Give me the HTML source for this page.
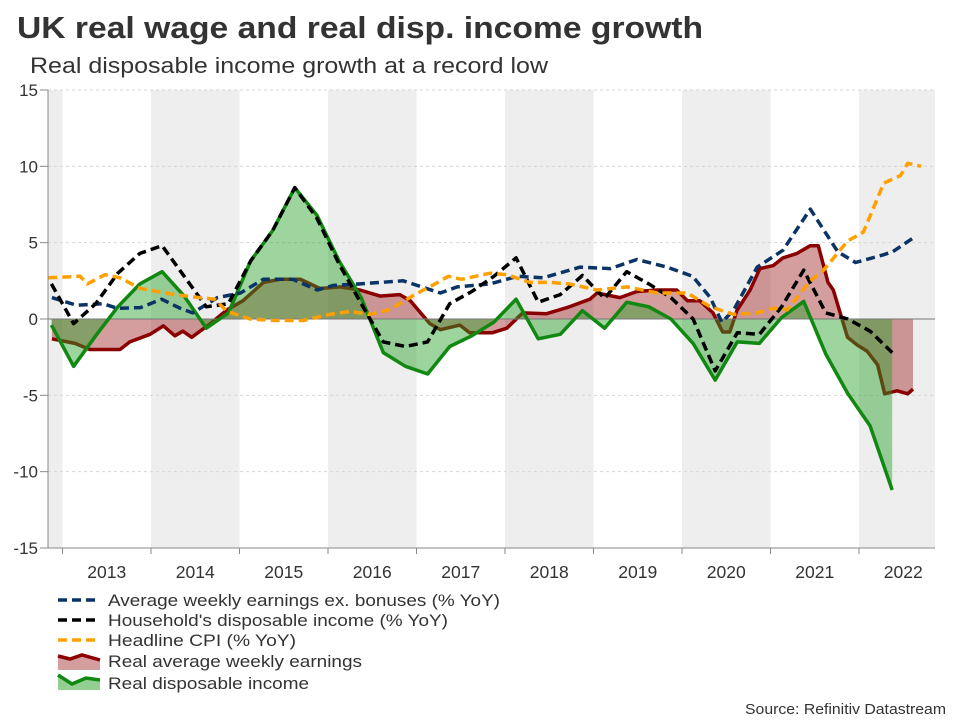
<!DOCTYPE html>
<html><head><meta charset="utf-8">
<style>
body{margin:0;background:#fff;font-family:"Liberation Sans",Arial,sans-serif;}
svg text{font-family:"Liberation Sans",Arial,sans-serif;}
</style></head>
<body>
<svg id="chart" width="960" height="720" viewBox="0 0 960 720">
<text x="17" y="38" font-size="31" font-weight="bold" fill="#333" textLength="686" lengthAdjust="spacingAndGlyphs">UK real wage and real disp. income growth</text>
<text x="30" y="73" font-size="22" fill="#333" textLength="518" lengthAdjust="spacingAndGlyphs">Real disposable income growth at a record low</text>
<g id="plot"></g>
<g id="legend">
 <g><line x1="58" y1="600" x2="100" y2="600" stroke="#0b3466" stroke-width="3.5" stroke-dasharray="9,5"/><text x="108" y="606" font-size="17" fill="#333" textLength="392" lengthAdjust="spacingAndGlyphs">Average weekly earnings ex. bonuses (% YoY)</text></g>
 <g><line x1="58" y1="620" x2="100" y2="620" stroke="#000" stroke-width="3.5" stroke-dasharray="9,5"/><text x="108" y="626" font-size="17" fill="#333" textLength="340" lengthAdjust="spacingAndGlyphs">Household's disposable income (% YoY)</text></g>
 <g><line x1="58" y1="640" x2="100" y2="640" stroke="#ffa000" stroke-width="3.5" stroke-dasharray="9,5"/><text x="108" y="646" font-size="17" fill="#333" textLength="188" lengthAdjust="spacingAndGlyphs">Headline CPI (% YoY)</text></g>
 <g><path d="M58,656 L70,659 L82,655 L100,660 L100,670 L58,670 Z" fill="rgba(160,40,40,0.45)"/><polyline points="58,656 70,659 82,655 100,660" fill="none" stroke="#8b0000" stroke-width="3.5"/><text x="108" y="667" font-size="17" fill="#333" textLength="254" lengthAdjust="spacingAndGlyphs">Real average weekly earnings</text></g>
 <g><path d="M58,675 L72,684 L86,678 L100,680 L100,690 L58,690 Z" fill="rgba(40,160,40,0.5)"/><polyline points="58,675 72,684 86,678 100,680" fill="none" stroke="#118811" stroke-width="3.5"/><text x="108" y="689" font-size="17" fill="#333" textLength="201" lengthAdjust="spacingAndGlyphs">Real disposable income</text></g>
</g>
<text x="946" y="714" font-size="15" fill="#333" text-anchor="end" textLength="201" lengthAdjust="spacingAndGlyphs">Source: Refinitiv Datastream</text>
</svg>
<script>
const yTicks = [15, 10, 5, 0, -5, -10, -15];
const years = [2013, 2014, 2015, 2016, 2017, 2018, 2019, 2020, 2021, 2022];
const qDates = [];
for (let i = 0; i < 39; i++) qDates.push(2012.875 + i * 0.25);
const realIncome = [-0.4,-3.1,-1.1,0.8,2.3,3.1,1.5,-0.6,0.4,3.8,5.8,8.6,6.8,3.8,1.4,-2.2,-3.1,-3.6,-1.8,-1.1,-0.2,1.3,-1.3,-1.0,0.55,-0.6,1.1,0.8,0.0,-1.6,-4.0,-1.5,-1.6,0.1,1.15,-2.3,-4.9,-7.0,-11.2];
const hhIncome = [2.3,-0.3,1.0,3.0,4.3,4.8,2.8,0.8,1.0,3.8,5.8,8.6,6.6,3.6,1.0,-1.5,-1.8,-1.5,1.0,1.8,2.8,4.0,1.1,1.6,2.85,1.35,3.1,2.3,1.4,0.0,-3.4,-0.9,-1.0,0.8,3.2,0.4,0.0,-0.8,-2.2];
const earnDates = [2012.88,2013.16,2013.46,2013.62,2013.88,2014.12,2014.33,2014.47,2014.75,2015.01,2015.27,2015.60,2015.88,2016.06,2016.36,2016.85,2017.27,2017.46,2017.83,2018.14,2018.43,2018.85,2019.19,2019.49,2019.83,2020.12,2020.32,2020.45,2020.58,2020.85,2021.14,2021.45,2021.76,2021.96,2022.27,2022.38,2022.61];
const earnings = [1.4,0.9,1.0,0.7,0.75,1.3,0.7,0.4,1.4,1.7,2.6,2.6,1.9,2.2,2.3,2.5,1.7,2.1,2.3,2.8,2.7,3.4,3.3,3.9,3.4,2.8,1.4,-0.2,0.55,3.4,4.5,7.2,4.4,3.7,4.2,4.4,5.3];
const cpiDates = [2012.84,2013.20,2013.28,2013.48,2013.65,2013.88,2014.27,2014.55,2014.72,2014.86,2015.12,2015.40,2015.72,2016.02,2016.25,2016.47,2016.69,2016.78,2016.98,2017.21,2017.36,2017.51,2017.83,2018.02,2018.28,2018.51,2018.73,2019.04,2019.38,2019.72,2020.06,2020.32,2020.58,2020.85,2021.03,2021.19,2021.45,2021.60,2021.87,2022.05,2022.28,2022.47,2022.55,2022.70];
const cpi = [2.7,2.8,2.3,2.9,2.7,2.0,1.6,1.4,1.3,0.5,0.0,-0.1,-0.1,0.3,0.5,0.3,0.6,0.9,1.6,2.3,2.8,2.6,3.0,2.9,2.4,2.4,2.3,1.9,2.1,1.7,1.7,0.8,0.3,0.4,0.7,0.6,2.5,3.2,5.1,5.7,8.9,9.4,10.2,10.0];
const realDates = [2012.88,2013.14,2013.31,2013.50,2013.65,2013.76,2013.99,2014.14,2014.27,2014.36,2014.46,2014.67,2014.86,2015.04,2015.27,2015.46,2015.69,2015.91,2016.14,2016.36,2016.59,2016.81,2016.93,2017.15,2017.27,2017.49,2017.60,2017.86,2018.02,2018.20,2018.47,2018.70,2018.96,2019.04,2019.30,2019.49,2019.72,2019.94,2020.06,2020.20,2020.35,2020.46,2020.54,2020.62,2020.77,2020.88,2021.03,2021.14,2021.30,2021.45,2021.54,2021.65,2021.71,2021.87,2021.98,2022.09,2022.21,2022.29,2022.43,2022.55,2022.61];
const realEarnings = [-1.3,-1.6,-2.0,-2.0,-2.0,-1.5,-1.0,-0.45,-1.1,-0.8,-1.2,-0.3,0.6,1.2,2.4,2.6,2.6,2.0,2.1,1.9,1.5,1.6,1.2,-0.3,-0.7,-0.4,-0.9,-0.9,-0.6,0.4,0.35,0.75,1.3,1.7,1.4,1.8,1.9,1.9,1.2,1.2,0.4,-0.85,-0.85,0.55,1.9,3.3,3.5,4.0,4.3,4.8,4.8,2.4,1.9,-1.2,-1.7,-2.1,-3.0,-4.9,-4.7,-4.9,-4.6];

const NS = "http://www.w3.org/2000/svg";
const X0 = 62.5, YW = 88.5, PL = 48, PR = 935, PT = 90, PB = 548;
const x = t => X0 + (t - 2013) * YW;
const y = v => PT + (15 - v) * (PB - PT) / 30;
const plot = document.getElementById('plot');
function mk(tag, attrs, parent) {
  const e = document.createElementNS(NS, tag);
  for (const k in attrs) e.setAttribute(k, attrs[k]);
  (parent || plot).appendChild(e);
  return e;
}
[2012, 2014, 2016, 2018, 2020, 2022].forEach(yr => {
  const a = Math.max(PL, x(yr)), b = Math.min(PR, x(yr + 1));
  const r = mk('rect', {x: a, y: PT, width: b - a, height: PB - PT, fill: '#eeeeee'});
  
  
});
yTicks.forEach(v => {
  if (v !== 0 && v !== -15) {
    const g = mk('line', {x1: PL, x2: PR, y1: y(v), y2: y(v), stroke: '#d6d6d6', 'stroke-dasharray': '3,3'});
    
    
  }
  mk('line', {x1: 40, x2: PL, y1: y(v), y2: y(v), stroke: '#888'});
  const t = mk('text', {x: 38, y: y(v) + 6, 'font-size': 17, fill: '#333', 'text-anchor': 'end'});
  t.textContent = v;
  
  
});
years.forEach(yr => {
  const t = mk('text', {x: x(yr + 0.5), y: 578, 'font-size': 17.5, fill: '#333', 'text-anchor': 'middle'});
  t.textContent = yr;
  
  
  mk('line', {x1: x(yr), x2: x(yr), y1: PB, y2: PB + 6, stroke: '#888'});
});
function pts(ds, vs) { return ds.map((d, i) => x(d).toFixed(1) + ',' + y(vs[i]).toFixed(1)); }
function area(ds, vs, fill, name) {
  const p = pts(ds, vs);
  const d = 'M' + x(ds[0]) + ',' + y(0) + ' L' + p.join(' L') + ' L' + x(ds[ds.length - 1]) + ',' + y(0) + ' Z';
  const e = mk('path', {d: d, fill: fill});
  
  
}
function line(ds, vs, stroke, dash, name) {
  const a = {points: pts(ds, vs).join(' '), fill: 'none', stroke: stroke, 'stroke-width': 3.5, 'stroke-linejoin': 'round'};
  if (dash) a['stroke-dasharray'] = dash;
  const e = mk('polyline', a);
  
  
}
area(realDates, realEarnings, 'rgba(160,40,40,0.45)', 'real-earnings-area');
line(realDates, realEarnings, '#8b0000', null, 'real-earnings-line');
area(qDates, realIncome, 'rgba(40,160,40,0.45)', 'real-income-area');
const z = mk('line', {x1: PL, x2: PR, y1: y(0), y2: y(0), stroke: '#777', 'stroke-width': 1});


line(qDates, realIncome, '#118811', null, 'real-income-line');
line(earnDates, earnings, '#0b3466', '9,5', 'avg-earnings-line');
line(qDates, hhIncome, '#000', '9,5', 'household-income-line');
line(cpiDates, cpi, '#ffa000', '9,5', 'cpi-line');
const ax = mk('line', {x1: PL, x2: PL, y1: PT, y2: PB, stroke: '#888'});


const bx = mk('line', {x1: PL, x2: PR, y1: PB, y2: PB, stroke: '#888'});


</script>
</body></html>
